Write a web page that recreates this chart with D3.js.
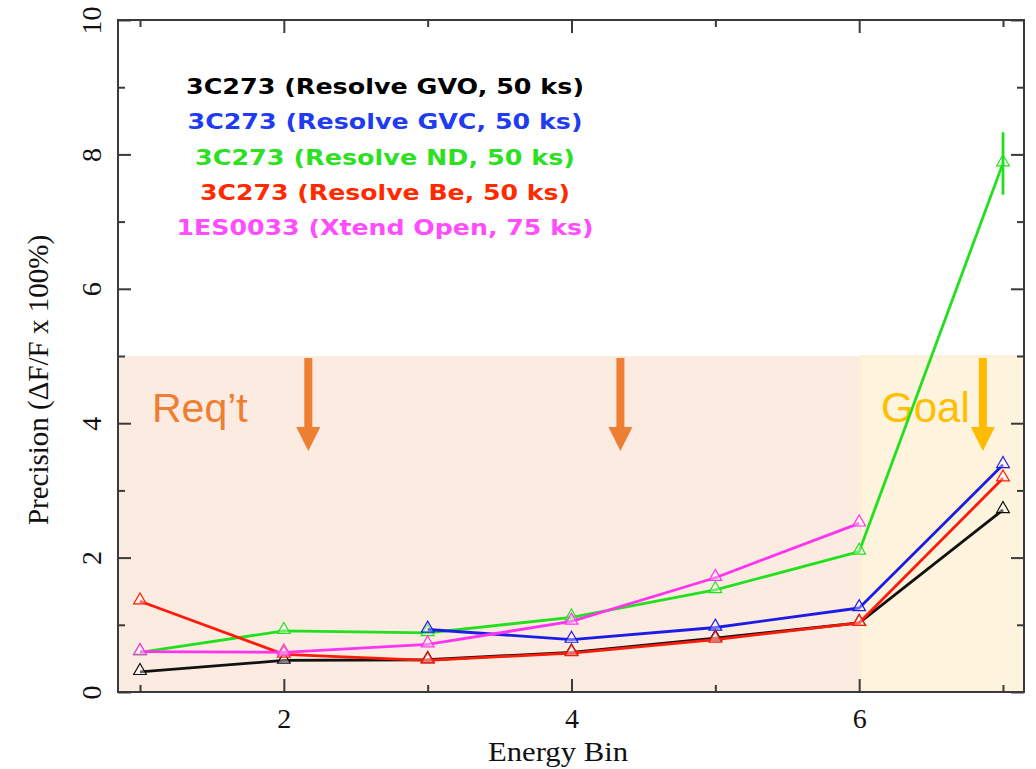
<!DOCTYPE html>
<html>
<head>
<meta charset="utf-8">
<script src="https://cdn.jsdelivr.net/npm/d3@7"></script>
<style>
  html, body { margin: 0; padding: 0; background: #ffffff; }
  svg { display: block; }
</style>
</head>
<body>
<svg id="chart" width="1036" height="769"></svg>
<script>
// Energy bins and precision (%) per configuration
const energyBins = [1, 2, 3, 4, 5, 6, 7];
const resolveGVO = [0.30, 0.47, 0.48, 0.59, 0.80, 1.03, 2.71];
const resolveGVC = [null, null, 0.93, 0.78, 0.96, 1.25, 3.38];
const resolveND  = [0.59, 0.91, 0.88, 1.11, 1.52, 2.09, 7.87];
const resolveBe  = [1.35, 0.56, 0.47, 0.58, 0.78, 1.03, 3.18];
const xtendOpen  = [0.60, 0.59, 0.71, 1.05, 1.70, 2.51, null];

// error bar on the last ND bin
const ndErrBin  = [7];
const ndErrLow  = [7.40];
const ndErrHigh = [8.33];

const seriesNames = [
  "3C273 (Resolve GVO, 50 ks)",
  "3C273 (Resolve GVC, 50 ks)",
  "3C273 (Resolve ND, 50 ks)",
  "3C273 (Resolve Be, 50 ks)",
  "1ES0033 (Xtend Open, 75 ks)"
];

const xMajorTicks = [2, 4, 6];
const xMinorTicks = [1, 3, 5, 7];
const yMajorTicks = [0, 2, 4, 6, 8, 10];
const yMinorTicks = [1, 3, 5, 7, 9];

// requirement / goal zones
const reqLevel = 5;
const goalFromBin = 6;

const svg = d3.select("#chart");
const plotLeft = 118, plotRight = 1024, plotTop = 20, plotBottom = 692;

const x = d3.scaleLinear().domain([0.847, 7.146]).range([plotLeft, plotRight]);
const y = d3.scaleLinear().domain([0, 10]).range([plotBottom, plotTop]);

// shaded zones
svg.append("rect")
  .attr("x", x(x.domain()[0])).attr("y", y(reqLevel))
  .attr("width", x(goalFromBin) - x(x.domain()[0]))
  .attr("height", y(0) - y(reqLevel))
  .attr("fill", "#fcebe0");
svg.append("rect")
  .attr("x", x(goalFromBin) + 1).attr("y", y(reqLevel))
  .attr("width", x(x.domain()[1]) - x(goalFromBin) - 1)
  .attr("height", y(0) - y(reqLevel))
  .attr("fill", "#fef3dc")
  .attr("stroke", "#fde3bd").attr("stroke-width", 1);

// zone labels and arrows
const annot = svg.append("g");
annot.append("text")
  .attr("x", 152).attr("y", 422)
  .attr("font-family", "Liberation Sans, Arial, sans-serif")
  .attr("font-size", 41)
  .attr("fill", "#ee7e32")
  .text("Req\u2019t");
annot.append("text")
  .attr("x", 881).attr("y", 422)
  .attr("font-family", "Liberation Sans, Arial, sans-serif")
  .attr("font-size", 42)
  .attr("fill", "#ffbf00")
  .text("Goal");

function downArrow(g, cx, y0, y1, color) {
  const hw = 4, headW = 12, headH = 24;
  g.append("path")
    .attr("d", `M${cx - hw},${y0} L${cx + hw},${y0} L${cx + hw},${y1 - headH} L${cx + headW},${y1 - headH}
                L${cx},${y1} L${cx - headW},${y1 - headH} L${cx - hw},${y1 - headH} Z`)
    .attr("fill", color);
}
downArrow(annot, x(2.17), y(reqLevel) + 2, 451, "#ee7e32");
downArrow(annot, x(4.34), y(reqLevel) + 2, 451, "#ee7e32");
downArrow(annot, x(6.86), y(reqLevel) + 2, 451, "#ffbb00");

// axes with inward ticks on all four sides
const axisColor = "#3a3a3a";
function styleAxis(g) {
  g.select(".domain").remove();
  g.selectAll("line").attr("stroke", axisColor).attr("stroke-width", 2);
}
// bottom
svg.append("g").attr("transform", `translate(0,${plotBottom})`)
  .call(d3.axisBottom(x).tickValues(xMinorTicks).tickSize(-7).tickFormat(""))
  .call(styleAxis);
const xAx = svg.append("g").attr("transform", `translate(0,${plotBottom})`)
  .call(d3.axisBottom(x).tickValues(xMajorTicks).tickSize(-13).tickPadding(16).tickFormat(d3.format("d")))
  .call(styleAxis);
xAx.selectAll("text")
  .attr("font-family", "Liberation Serif, Times New Roman, serif")
  .attr("font-size", 28).attr("fill", "#111");
// top
svg.append("g").attr("transform", `translate(0,${plotTop})`)
  .call(d3.axisTop(x).tickValues(xMinorTicks).tickSize(-7).tickFormat(""))
  .call(styleAxis);
svg.append("g").attr("transform", `translate(0,${plotTop})`)
  .call(d3.axisTop(x).tickValues(xMajorTicks).tickSize(-13).tickFormat(""))
  .call(styleAxis);
// left
svg.append("g").attr("transform", `translate(${plotLeft},0)`)
  .call(d3.axisLeft(y).tickValues(yMinorTicks).tickSize(-7).tickFormat(""))
  .call(styleAxis);
const yAx = svg.append("g").attr("transform", `translate(${plotLeft},0)`)
  .call(d3.axisLeft(y).tickValues(yMajorTicks).tickSize(-13).tickFormat(d3.format("d")))
  .call(styleAxis);
yAx.selectAll("text")
  .attr("x", null).attr("dy", null)
  .attr("transform", "translate(-27,0) rotate(-90)")
  .attr("text-anchor", "middle")
  .attr("dy", "0.35em")
  .attr("font-family", "Liberation Serif, Times New Roman, serif")
  .attr("font-size", 28).attr("fill", "#111");
// right
svg.append("g").attr("transform", `translate(${plotRight},0)`)
  .call(d3.axisRight(y).tickValues(yMinorTicks).tickSize(-7).tickFormat(""))
  .call(styleAxis);
svg.append("g").attr("transform", `translate(${plotRight},0)`)
  .call(d3.axisRight(y).tickValues(yMajorTicks).tickSize(-13).tickFormat(""))
  .call(styleAxis);

// frame
svg.append("rect")
  .attr("x", plotLeft).attr("y", plotTop)
  .attr("width", plotRight - plotLeft).attr("height", plotBottom - plotTop)
  .attr("fill", "none").attr("stroke", axisColor).attr("stroke-width", 2);

// axis titles
svg.append("text")
  .attr("x", 558).attr("y", 761)
  .attr("text-anchor", "middle")
  .attr("font-family", "Liberation Serif, Times New Roman, serif")
  .attr("font-size", 27).attr("fill", "#111")
  .attr("textLength", 140).attr("lengthAdjust", "spacingAndGlyphs")
  .text("Energy Bin");
svg.append("text")
  .attr("transform", "translate(48,380) rotate(-90)")
  .attr("text-anchor", "middle")
  .attr("font-family", "Liberation Serif, Times New Roman, serif")
  .attr("font-size", 29).attr("fill", "#111")
  .text("Precision (\u0394F/F x 100%)");

// series
const series = [
  { name: seriesNames[0], values: resolveGVO, line: "#111111", text: "#000000" },
  { name: seriesNames[2], values: resolveND,  line: "#22e01e", text: "#2ee023" },
  { name: seriesNames[1], values: resolveGVC, line: "#1c1ce6", text: "#1f3cf0" },
  { name: seriesNames[3], values: resolveBe,  line: "#ff1a0a", text: "#ff2a00" },
  { name: seriesNames[4], values: xtendOpen,  line: "#ff33f0", text: "#ff4cff" }
];

const line = d3.line()
  .defined(d => d.v != null)
  .x(d => x(d.bin))
  .y(d => y(d.v));

const tri = d3.symbol().type(d3.symbolTriangle).size(70);

const plot = svg.append("g");
series.forEach(s => {
  const pts = energyBins.map((b, i) => ({ bin: b, v: s.values[i] }));
  plot.append("path")
    .datum(pts)
    .attr("d", line)
    .attr("fill", "none")
    .attr("stroke", s.line)
    .attr("stroke-width", 2.8)
    .attr("stroke-linejoin", "round");
  plot.selectAll(null)
    .data(pts.filter(d => d.v != null))
    .join("path")
    .attr("d", tri)
    .attr("transform", d => `translate(${x(d.bin)},${y(d.v) - 1})`)
    .attr("fill", "rgba(255,255,255,0.35)")
    .attr("stroke", s.line)
    .attr("stroke-width", 1.2);
});

// ND error bar
plot.selectAll(null)
  .data(ndErrBin.map((b, i) => ({ bin: b, lo: ndErrLow[i], hi: ndErrHigh[i] })))
  .join("line")
  .attr("x1", d => x(d.bin)).attr("x2", d => x(d.bin))
  .attr("y1", d => y(d.lo)).attr("y2", d => y(d.hi))
  .attr("stroke", "#22e01e").attr("stroke-width", 2.8);

// legend block
const legendWidths = [398, 395, 380, 370, 417];
const legendOrder = [0, 2, 1, 3, 4];
svg.append("g")
  .selectAll("text")
  .data(seriesNames)
  .join("text")
  .attr("x", 385)
  .attr("y", (d, i) => 94 + i * 35.3)
  .attr("text-anchor", "middle")
  .attr("font-family", "DejaVu Sans, Verdana, sans-serif")
  .attr("font-weight", "bold")
  .attr("font-size", 22)
  .attr("textLength", (d, i) => legendWidths[i])
  .attr("lengthAdjust", "spacingAndGlyphs")
  .attr("fill", (d, i) => series[legendOrder[i]].text)
  .text(d => d);
</script>
</body>
</html>
